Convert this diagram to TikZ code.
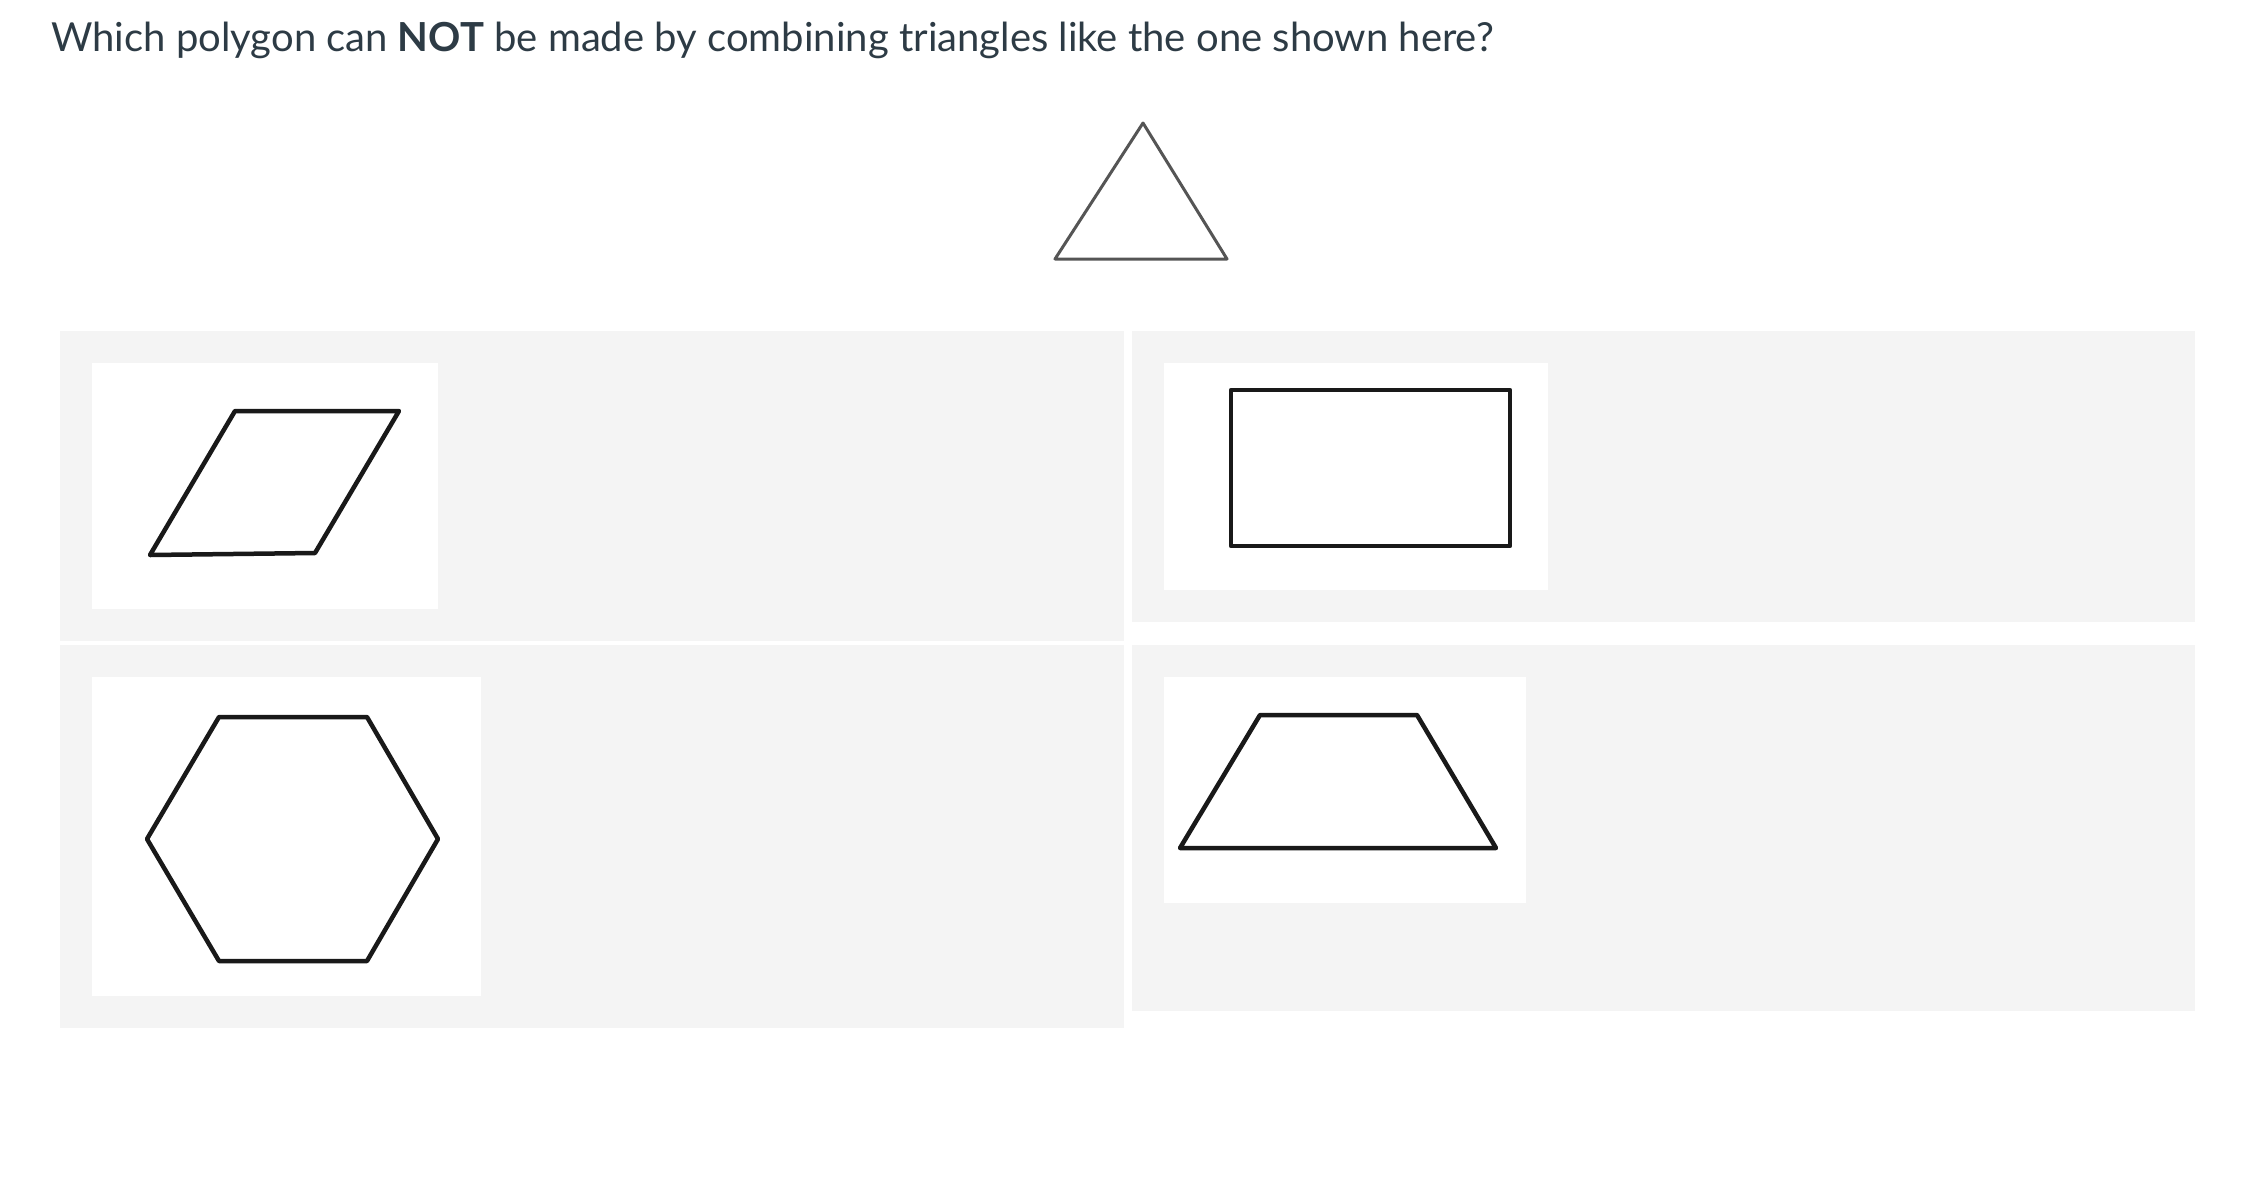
\documentclass[tikz,border=0pt]{standalone}
\usepackage{fontspec}
\setmainfont{Lato}
\definecolor{txt}{HTML}{2D3B45}
\definecolor{panel}{HTML}{F4F4F4}
\definecolor{trigray}{HTML}{555555}
\tikzset{
  panelbox/.style={fill=panel, draw=none},
  whitebox/.style={fill=white, draw=none},
  shapeline/.style={draw=black!90, line width=4.5pt, line join=round, fill=white},
}
\begin{document}
\begin{tikzpicture}[x=1pt,y=-1pt]
\useasboundingbox[fill=white] (0,0) rectangle (2253,1189);
\node[anchor=base west, inner sep=0pt, text=txt, font=\fontsize{40}{48}\selectfont] (title) at (51,51)
  {Which polygon can \textbf{NOT} be made by combining triangles like the one shown here?};
% reference triangle
\draw[draw=trigray, line width=3pt, line join=round] (1143,123) -- (1227,259) -- (1055,259) -- cycle;
% panels
\fill[panelbox] (60,331) rectangle (1124,641);
\fill[panelbox] (1132,331) rectangle (2195,622);
\fill[panelbox] (60,645) rectangle (1124,1028);
\fill[panelbox] (1132,645) rectangle (2195,1011);
% white boxes
\fill[whitebox] (92,363) rectangle (438,609);
\fill[whitebox] (1164,363) rectangle (1548,590);
\fill[whitebox] (92,677) rectangle (481,996);
\fill[whitebox] (1164,677) rectangle (1526,903);
% parallelogram
\draw[shapeline] (235,411) -- (399,411) -- (315,553) -- (150,555) -- cycle;
% rectangle
\draw[shapeline] (1231,390) rectangle (1510,546);
% hexagon
\draw[shapeline] (219,717) -- (367,717) -- (438,839) -- (367,961) -- (219,961) -- (147,839) -- cycle;
% trapezoid
\draw[shapeline] (1260,715) -- (1417,715) -- (1496,848) -- (1180,848) -- cycle;
\end{tikzpicture}
\end{document}
